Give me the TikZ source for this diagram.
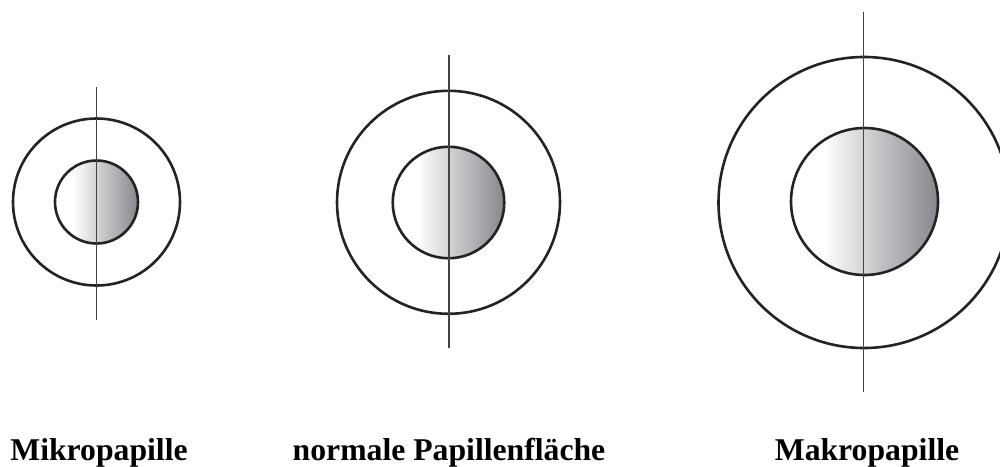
\documentclass[tikz,border=0pt]{standalone}
\usepackage{fontspec}
\setmainfont{Liberation Serif}
\usepackage{tikz}
\usetikzlibrary{positioning}
\definecolor{papgrau}{RGB}{134,134,142}
\definecolor{strich}{RGB}{35,35,35}
\pgfdeclarehorizontalshading{papille}{100bp}{color(0bp)=(white); color(25bp)=(white); color(36bp)=(white); color(75bp)=(papgrau); color(100bp)=(papgrau)}
\newcommand\Rand{2.6pt}
\tikzset{
  aussen/.style={
    shape = circle,
    draw = strich,
    line width = \Rand,
    inner sep = 0pt
  },
  innen/.style={
    shape = circle,
    draw = strich,
    line width = \Rand,
    inner sep = 0pt,
    shading = papille
  },
  achse/.style={
    draw = strich!85,
    line width = 1.1pt
  },
  titel/.style={
    anchor = base,
    inner sep = 0pt,
    font = \fontsize{31.7}{38}\selectfont\bfseries
  }
}

\begin{document}
\begin{tikzpicture}[x=1pt,y=-1pt]
    \clip (0,0) rectangle (1000,466);
    % Mikropapille
    \node[aussen, minimum size=167pt] (mikroA) at (96.5,202) {};
    \node[innen, minimum size=83pt] (mikroI) at (96.5,202) {};
    \coordinate (mikroO) at (96.5,87);
    \coordinate (mikroU) at (96.5,320);
    \draw[achse] (mikroO) -- (mikroU);

    % normale Papille
    \node[aussen, minimum size=223pt] (normA) at (448.5,202.3) {};
    \node[innen, minimum size=111.5pt] (normI) at (448.5,202.5) {};
    \coordinate (normO) at (449,55);
    \coordinate (normU) at (449,348);
    \draw[achse] (normO) -- (normU);

    % Makropapille
    \node[aussen, minimum size=291pt] (makroA) at (864,202.5) {};
    \node[innen, minimum size=147pt] (makroI) at (864.5,201.5) {};
    \coordinate (makroO) at (863.5,12);
    \coordinate (makroU) at (863.5,392);
    \draw[achse] (makroO) -- (makroU);

    \node[titel] (mikroT) at (99,460) {Mikropapille};
    \node[titel] (normT) at (449,460) {normale Papillenfläche};
    \node[titel] (makroT) at (867,460) {Makropapille};
\end{tikzpicture}
\end{document}
